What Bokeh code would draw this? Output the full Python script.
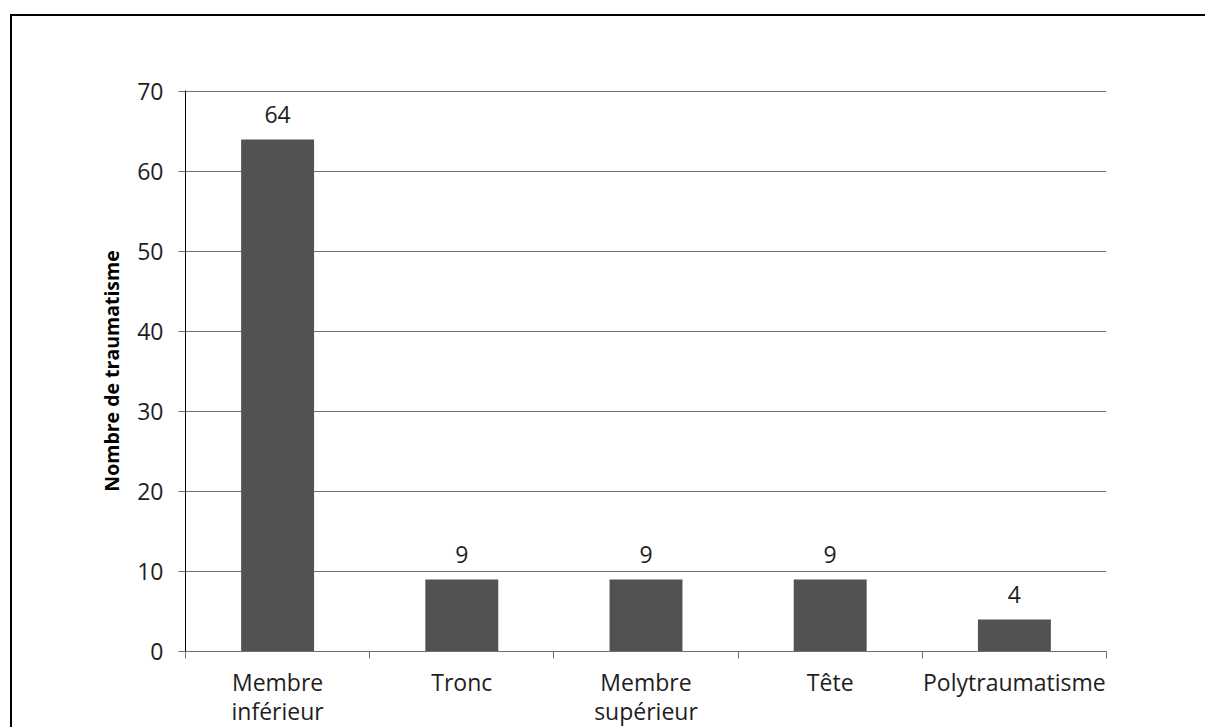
from bokeh.plotting import figure
from bokeh.models import FixedTicker, ColumnDataSource, LabelSet, Range1d
from bokeh.core.properties import value
from bokeh.embed import file_html
from bokeh.resources import INLINE

categories = ["Membre\ninférieur", "Tronc", "Membre\nsupérieur", "Tête", "Polytraumatisme"]
values = [64, 9, 9, 9, 4]
y_ticks = [0, 10, 20, 30, 40, 50, 60, 70]

FONT = "Open Sans"
TXT = "#1e1e1e"
xs = [i + 0.5 for i in range(len(categories))]
src = ColumnDataSource(dict(x=xs, top=values, lab=[str(v) for v in values]))

p = figure(frame_width=921, frame_height=561, output_backend="svg", toolbar_location=None,
           x_range=Range1d(0, len(categories)), y_range=Range1d(0, 70.125),
           min_border_left=173, min_border_top=74, min_border_right=99, min_border_bottom=70)
p.styles = {"margin-left": "10px", "margin-top": "14px",
            "border-top": "2px solid black", "border-left": "2px solid black"}
p.outline_line_color = None

p.vbar(x="x", top="top", width=0.396, source=src, fill_color="#525252", line_color=None)

labels = LabelSet(x="x", y="top", text="lab", source=src, text_align="center",
                  text_baseline="alphabetic", y_offset=17, text_font=value(FONT),
                  text_font_size="23px", text_color=TXT)
p.add_layout(labels)

# y axis
p.yaxis.ticker = FixedTicker(ticks=y_ticks)
p.yaxis.axis_line_color = "black"
p.yaxis.major_tick_line_color = "#6e6e6e"
p.yaxis.major_tick_in = 0
p.yaxis.major_tick_out = 7
p.yaxis.minor_tick_line_color = None
p.yaxis.major_label_text_font = FONT
p.yaxis.major_label_text_font_size = "23px"
p.yaxis.major_label_text_color = TXT
p.yaxis.major_label_standoff = 15
p.yaxis.axis_label = "Nombre de traumatisme"
p.yaxis.axis_label_text_font = FONT
p.yaxis.axis_label_text_font_style = "bold"
p.yaxis.axis_label_text_font_size = "19.5px"
p.yaxis.axis_label_text_color = "black"
p.yaxis.axis_label_standoff = 9

# x axis
p.xaxis.ticker = FixedTicker(ticks=xs, minor_ticks=list(range(len(categories) + 1)))
p.xaxis.major_label_overrides = {x: c for x, c in zip(xs, categories)}
p.xaxis.axis_line_color = "#6e6e6e"
p.xaxis.major_tick_line_color = None
p.xaxis.major_tick_out = 0
p.xaxis.minor_tick_line_color = "#6e6e6e"
p.xaxis.minor_tick_in = 0
p.xaxis.minor_tick_out = 7
p.xaxis.major_label_text_font = FONT
p.xaxis.major_label_text_font_size = "23px"
p.xaxis.major_label_text_color = TXT
p.xaxis.major_label_text_line_height = 0.92
p.xaxis.major_label_standoff = 7

p.xgrid.grid_line_color = None
p.ygrid.grid_line_color = "#727272"
p.ygrid.ticker = FixedTicker(ticks=y_ticks)

open("out.html", "w").write(file_html(p, INLINE))
